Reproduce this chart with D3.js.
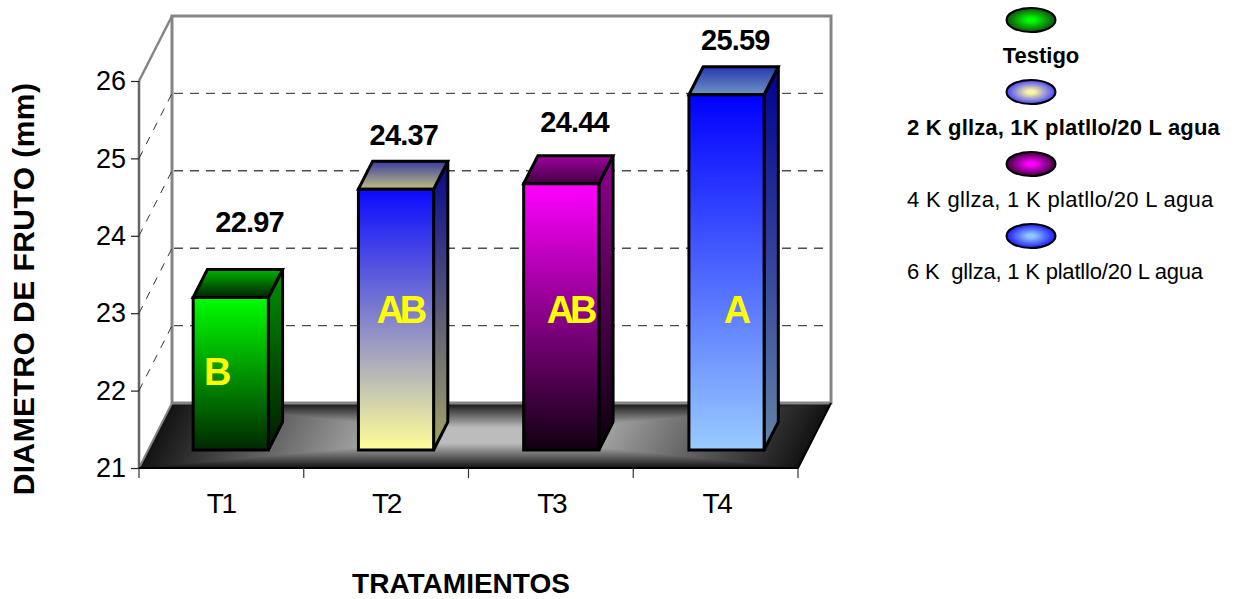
<!DOCTYPE html>
<html>
<head>
<meta charset="utf-8">
<script src="https://cdn.jsdelivr.net/npm/d3@7"></script>
<style>
  html, body { margin: 0; padding: 0; background: #fff; }
  svg { display: block; }
  text { font-family: "Liberation Sans", Arial, sans-serif; }
</style>
</head>
<body>
<svg id="chart" width="1234" height="599"></svg>
<script>
// Fruit diameter per treatment
const categories = ["T1", "T2", "T3", "T4"];
const values = [22.97, 24.37, 24.44, 25.59];
const significance = ["B", "AB", "AB", "A"];
const yTicks = [21, 22, 23, 24, 25, 26];
const legendLabels = [
  "Testigo",
  "2 K gllza, 1K platllo/20 L agua",
  "4 K gllza, 1 K platllo/20 L agua",
  "6 K  gllza, 1 K platllo/20 L agua"
];
const legendWeights = ["bold", "bold", "normal", "normal"];
const legendTracking = [0, 0.17, 0.32, -0.2];
const legendCentre = ["#00ff00", "#fbf5a0", "#ff00ff", "#8fc4ff"];
const legendEdge = ["#0f4f0f", "#4444ff", "#3c003c", "#1a1aff"];
const barTopColors = ["#00ff00", "#0a0aff", "#ff00ff", "#0000ff"];
const barBottomColors = ["#002800", "#ffff99", "#100010", "#99ccff"];
const lidBackColors = ["#00b400", "#3a3aa0", "#a000a0", "#2438b0"];
const lidFrontColors = ["#002000", "#c0c080", "#400040", "#7094c4"];

const svg = d3.select("#chart");
const defs = svg.append("defs");

// Oblique projection: depth 0 is the front edge of the floor, depth 1 the back wall
const depthX = 33, depthY = -65;
const project = (x, y, d) => [x + depthX * d, y + depthY * d];
const barDepthFront = 18 / 65, barDepthBack = 46 / 65;

const y = d3.scaleLinear().domain([21, 26]).range([468, 81]);
const x = d3.scaleBand().domain(categories).range([139, 800])
  .paddingInner(0.545).paddingOuter(0.2725);
const left = 139, right = 798;
const floorY = y(21);

function verticalGradient(id, top, bottom) {
  const g = defs.append("linearGradient").attr("id", id)
    .attr("x1", 0).attr("y1", 0).attr("x2", 0).attr("y2", 1);
  g.append("stop").attr("offset", 0).attr("stop-color", top);
  g.append("stop").attr("offset", 1).attr("stop-color", bottom);
}
const poly = pts => "M" + pts.map(p => p.join(",")).join("L") + "Z";
const open = pts => "M" + pts.map(p => p.join(",")).join("L");

// Floor: a path gradient built from nested parallelograms
const floorPts = [
  project(left, floorY, 0), project(left, floorY, 1),
  project(right, floorY, 1), project(right, floorY, 0)
];
const fcx = d3.mean(floorPts, p => p[0]), fcy = d3.mean(floorPts, p => p[1]);
const floorShade = d3.interpolateRgb("#141414", "#bcbcbc");
svg.append("g").selectAll("path").data(d3.range(0, 1, 1 / 70)).join("path")
  .attr("d", t => poly(floorPts.map(p => [fcx + (p[0] - fcx) * (1 - t), fcy + (p[1] - fcy) * (1 - t)])))
  .attr("fill", t => floorShade(Math.min(1, t / 0.75)));

// Walls
const wallColor = "#858585";
const walls = svg.append("g").attr("fill", "none").attr("stroke", wallColor).attr("stroke-width", 3);
walls.append("path").attr("d", poly([
  project(left, y(26), 1), project(right, y(26), 1),
  project(right, floorY, 1), project(left, floorY, 1)
]));
walls.append("path").attr("stroke-width", 2.5)
  .attr("d", open([project(left, y(26), 0), project(left, y(26), 1)]));
walls.append("path").attr("stroke-width", 2)
  .attr("d", open([project(left, floorY, 0), project(left, floorY, 1)]));
svg.append("path").attr("fill", "none").attr("stroke", "#666").attr("stroke-width", 2.5)
  .attr("d", open([project(left, floorY, 0), project(left, y(26), 0)]));
svg.append("path").attr("fill", "none").attr("stroke", "#000").attr("stroke-width", 2)
  .attr("d", open([project(left, floorY, 0), project(right, floorY, 0), project(right, floorY, 1)]));

// Gridlines on the back wall and along the left wall
const gridValues = yTicks.slice(1, -1);
const grid = svg.append("g").attr("fill", "none");
grid.selectAll("line.back").data(gridValues).join("line")
  .attr("class", "back")
  .attr("x1", project(left, 0, 1)[0] + 2).attr("x2", project(right, 0, 1)[0] - 2)
  .attr("y1", v => project(0, y(v), 1)[1]).attr("y2", v => project(0, y(v), 1)[1])
  .attr("stroke", "#4d4d4d").attr("stroke-width", 1.4).attr("stroke-dasharray", "9 7");
grid.selectAll("line.side").data(gridValues).join("line")
  .attr("class", "side")
  .attr("x1", left).attr("y1", v => y(v))
  .attr("x2", project(left, 0, 1)[0]).attr("y2", v => project(0, y(v), 1)[1])
  .attr("stroke", "#333").attr("stroke-width", 1).attr("stroke-dasharray", "8 8");

// Axes
const axisY = d3.axisLeft(y).tickValues(yTicks).tickFormat(d3.format("d")).tickSize(8).tickPadding(5);
const gy = svg.append("g").attr("transform", `translate(${left},0)`).call(axisY);
gy.select(".domain").remove();
gy.selectAll("line").attr("stroke", "#222").attr("stroke-width", 1.2);
gy.selectAll("text").attr("font-size", 27).attr("fill", "#000")
  .style("font-family", '"Liberation Sans", Arial, sans-serif');

const axisX = d3.axisBottom(x).tickSize(0).tickPadding(25);
const gx = svg.append("g").attr("transform", `translate(-1,${floorY})`).call(axisX);
gx.select(".domain").remove();
gx.selectAll("text").attr("font-size", 28).attr("fill", "#000").attr("letter-spacing", -2.5)
  .style("font-family", '"Liberation Sans", Arial, sans-serif');
const sepStep = (right - left) / categories.length;
gx.selectAll("line.sep").data(d3.range(categories.length + 1)).join("line")
  .attr("class", "sep")
  .attr("x1", i => 1 + left + i * sepStep).attr("x2", i => 1 + left + i * sepStep)
  .attr("y1", 0).attr("y2", 10).attr("stroke", "#333").attr("stroke-width", 1.2);

// Bars: side, lid, then front
const bars = svg.append("g").selectAll("g").data(categories).join("g");
bars.each(function (c, i) {
  const g = d3.select(this);
  const v = values[i];
  const xa = x(c), xb = xa + x.bandwidth();
  const f = (px, val, d) => project(px, y(val), d);

  verticalGradient(`front${i}`, barTopColors[i], barBottomColors[i]);
  verticalGradient(`lid${i}`, lidBackColors[i], lidFrontColors[i]);
  verticalGradient(`side${i}`, d3.rgb(barTopColors[i]).darker(1.6), d3.rgb(barBottomColors[i]).darker(1.2));

  const stroke = sel => sel.attr("stroke", "#000").attr("stroke-width", 3).attr("stroke-linejoin", "miter");
  g.append("path").attr("fill", `url(#side${i})`).call(stroke).attr("d", poly([
    f(xb, v, barDepthFront), f(xb, v, barDepthBack), f(xb, 21, barDepthBack), f(xb, 21, barDepthFront)
  ]));
  g.append("path").attr("fill", `url(#lid${i})`).call(stroke).attr("d", poly([
    f(xa, v, barDepthFront), f(xa, v, barDepthBack), f(xb, v, barDepthBack), f(xb, v, barDepthFront)
  ]));
  g.append("path").attr("fill", `url(#front${i})`).call(stroke).attr("d", poly([
    f(xa, v, barDepthFront), f(xb, v, barDepthFront), f(xb, 21, barDepthFront), f(xa, 21, barDepthFront)
  ]));
});

// Value labels sit a little above each bar, hand-placed per bar
const valueNudge = [[28, -48], [17, -26], [22.5, -34], [18, -27]];
svg.append("g").selectAll("text").data(values).join("text")
  .attr("x", (v, i) => x(categories[i]) + x.bandwidth() / 2 + valueNudge[i][0])
  .attr("y", (v, i) => project(0, y(v), barDepthBack)[1] + valueNudge[i][1])
  .attr("dy", "0.35em").attr("text-anchor", "middle")
  .attr("font-size", 29).attr("font-weight", "bold").attr("letter-spacing", -0.8)
  .text(v => v.toFixed(2));

// Significance letters drawn on the front faces
const letterRows = [22.2, 23, 23, 23];
const letterNudge = [-6, 13, 18, 18];
svg.append("g").selectAll("text").data(significance).join("text")
  .attr("x", (s, i) => x(categories[i]) + x.bandwidth() / 2 + letterNudge[i])
  .attr("y", (s, i) => y(letterRows[i]))
  .attr("dy", "0.25em").attr("text-anchor", "middle")
  .attr("font-size", 38).attr("font-weight", "bold").attr("fill", "#ffff00").attr("letter-spacing", -4)
  .text(s => s);

// Axis titles
svg.append("text").attr("transform", "translate(33.5,289) rotate(-90)")
  .attr("text-anchor", "middle").attr("font-size", 30).attr("font-weight", "bold").attr("letter-spacing", 0.45)
  .text("DIAMETRO DE FRUTO (mm)");
svg.append("text").attr("x", 461).attr("y", 593).attr("text-anchor", "middle")
  .attr("font-size", 28).attr("font-weight", "bold")
  .text("TRATAMIENTOS");

// Legend
const legendRow = d3.scaleLinear().domain([0, 3]).range([20, 236]);
const legend = svg.append("g").selectAll("g").data(legendLabels).join("g");
legend.each(function (label, i) {
  const g = d3.select(this);
  const grad = defs.append("radialGradient").attr("id", `key${i}`);
  grad.append("stop").attr("offset", 0).attr("stop-color", legendCentre[i]);
  grad.append("stop").attr("offset", 0.15).attr("stop-color", legendCentre[i]);
  grad.append("stop").attr("offset", 1).attr("stop-color", legendEdge[i]);
  g.append("ellipse").attr("cx", 1031).attr("cy", legendRow(i))
    .attr("rx", 24.5).attr("ry", 12)
    .attr("fill", `url(#key${i})`).attr("stroke", "#000").attr("stroke-width", 2);
  g.append("text").attr("y", legendRow(i) + 43)
    .attr("x", i === 0 ? 1041 : 907)
    .attr("text-anchor", i === 0 ? "middle" : "start")
    .attr("font-size", 22).attr("font-weight", legendWeights[i])
    .attr("letter-spacing", legendTracking[i])
    .style("white-space", "pre")
    .text(label);
});
</script>
</body>
</html>
